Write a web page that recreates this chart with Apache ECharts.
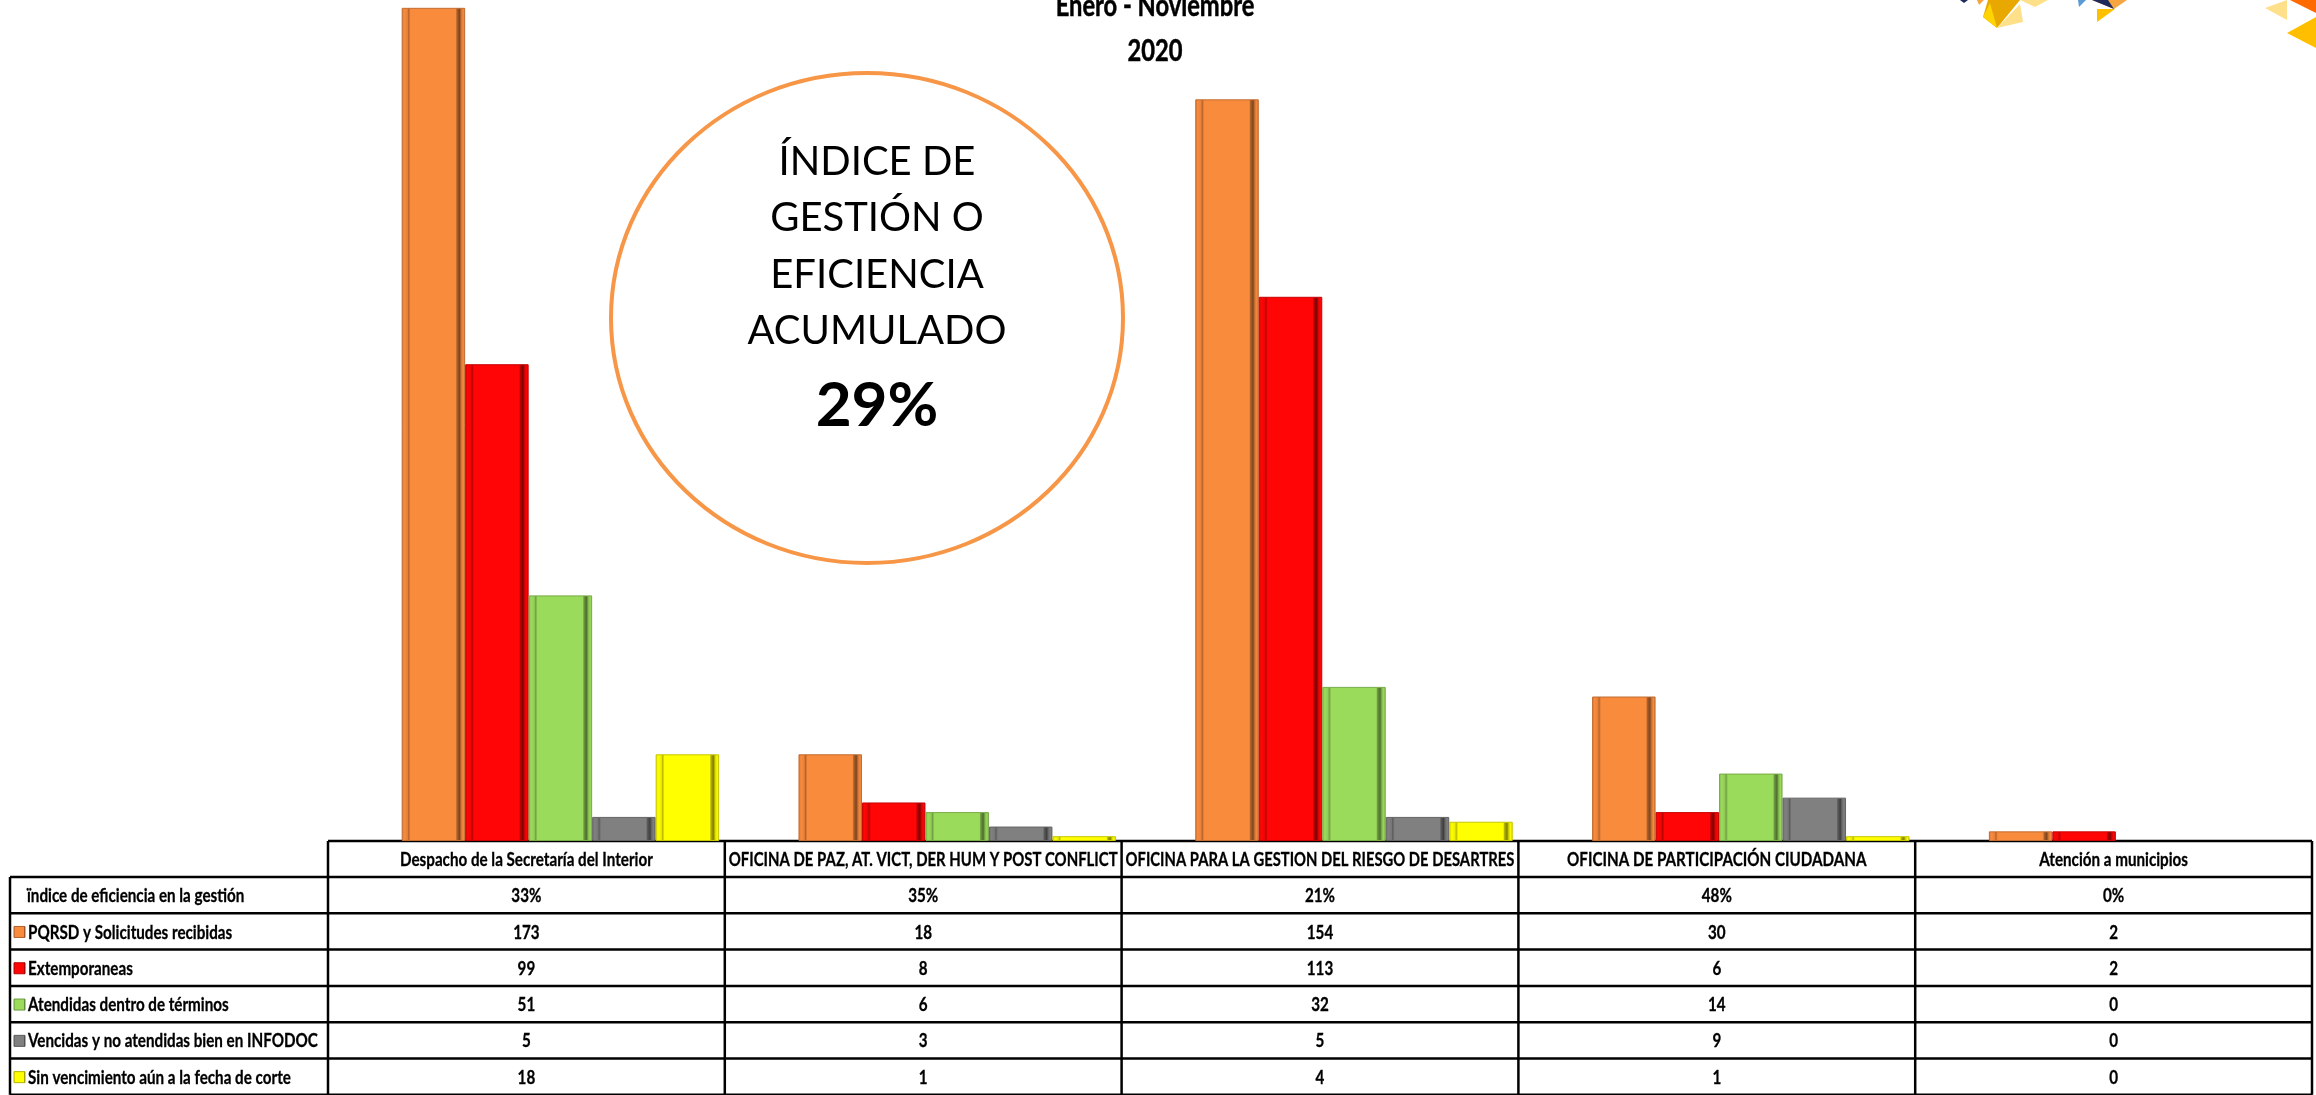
<!DOCTYPE html>
<html><head><meta charset="utf-8">
<script src="https://cdn.jsdelivr.net/npm/echarts@6/dist/echarts.min.js"></script>
<style>html,body{margin:0;padding:0;background:#fff}#c{width:2316px;height:1095px}</style>
</head><body><div id="c"></div>
<script>
// ---- data ----
const categories = ['Despacho de la Secretaría del Interior','OFICINA DE PAZ, AT. VICT, DER HUM Y POST CONFLICT','OFICINA PARA LA GESTION DEL RIESGO DE DESARTRES','OFICINA DE PARTICIPACIÓN CIUDADANA','Atención a municipios'];
const seriesNames = ['PQRSD y Solicitudes recibidas','Extemporaneas','Atendidas dentro de términos','Vencidas y no atendidas bien en INFODOC','Sin vencimiento aún a la fecha de corte'];
const pqrsd = [173, 18, 154, 30, 2];
const extemporaneas = [99, 8, 113, 6, 2];
const atendidas = [51, 6, 32, 14, 0];
const vencidas = [5, 3, 5, 9, 0];
const sinVencimiento = [18, 1, 4, 1, 0];
const indiceLabel = 'ïndice de eficiencia en la gestión';
const indice = ['33%', '35%', '21%', '48%', '0%'];
const titleLines = ['Enero - Noviembre', '2020'];
const calloutLines = ['ÍNDICE DE', 'GESTIÓN O', 'EFICIENCIA', 'ACUMULADO'];
const calloutValue = '29%';

// ---- styles ----
const colors = ['#F98B3D', '#FF0505', '#9BDB5B', '#808080', '#FFFF00'];
const FONT = "Lato,'Open Sans',sans-serif";
function shade(hex, f) {
  const n = parseInt(hex.slice(1), 16);
  let r = (n >> 16) & 255, g = (n >> 8) & 255, b = n & 255;
  if (f < 1) { r *= f; g *= f; b *= f; }
  else { const t = f - 1; r += (255 - r) * t; g += (255 - g) * t; b += (255 - b) * t; }
  const h = v => Math.round(Math.max(0, Math.min(255, v))).toString(16).padStart(2, '0');
  return '#' + h(r) + h(g) + h(b);
}
function bevel(c) {
  return { type: 'linear', x: 0, y: 0, x2: 1, y2: 0, colorStops: [
    { offset: 0, color: shade(c, 0.85) },
    { offset: 0.04, color: c },
    { offset: 0.09, color: shade(c, 0.93) },
    { offset: 0.11, color: shade(c, 0.72) },
    { offset: 0.14, color: c },
    { offset: 0.85, color: c },
    { offset: 0.87, color: shade(c, 0.7) },
    { offset: 0.91, color: shade(c, 0.5) },
    { offset: 0.94, color: shade(c, 0.85) },
    { offset: 0.97, color: c },
    { offset: 1, color: shade(c, 0.8) }
  ] };
}

// ---- layout ----
const tableLeft = 328, tableRight = 2312, labelLeft = 10;
const headerTop = 841, headerH = 36, rowH = 36.3;
const barShift = 34;
const colW = (tableRight - tableLeft) / categories.length;

const chart = echarts.init(document.getElementById('c'), null, { renderer: 'canvas' });
const seriesData = [pqrsd, extemporaneas, atendidas, vencidas, sinVencimiento];

const measureCtx = document.createElement('canvas').getContext('2d');
function fitScale(text, font, base, maxW) {
  measureCtx.font = font;
  const w = measureCtx.measureText(text).width * base;
  return w > maxW ? base * maxW / w : base;
}

const graphic = [];
// title
titleLines.forEach((t, i) => graphic.push({ type: 'text', x: 1155, y: 6 + i * 45, scaleX: 0.79,
  style: { text: t, font: 'bold 30px ' + FONT, fill: '#000', stroke: '#000', lineWidth: 0.5, align: 'center', verticalAlign: 'middle' } }));
// callout ellipse
graphic.push({ type: 'ellipse', shape: { cx: 867, cy: 318, rx: 256, ry: 245 }, style: { fill: 'none', stroke: '#F79646', lineWidth: 4 } });
calloutLines.forEach((t, i) => graphic.push({ type: 'text', x: 877, y: 162 + i * 56.5,
  style: { text: t, font: '40px ' + FONT, fill: '#000', align: 'center', verticalAlign: 'middle' } }));
graphic.push({ type: 'text', x: 877, y: 406, style: { text: calloutValue, font: 'bold 62px ' + FONT, fill: '#000', align: 'center', verticalAlign: 'middle' } });

// table lines
const lineStyle = { stroke: '#000', lineWidth: 2.5 };
const nRows = seriesNames.length + 1;
const tableBottom = headerTop + headerH + nRows * rowH;
graphic.push({ type: 'line', shape: { x1: tableLeft, y1: headerTop, x2: tableRight, y2: headerTop }, style: lineStyle });
for (let r = 0; r <= nRows; r++) {
  const y = headerTop + headerH + r * rowH;
  graphic.push({ type: 'line', shape: { x1: labelLeft, y1: y, x2: tableRight, y2: y }, style: lineStyle });
}
graphic.push({ type: 'line', shape: { x1: labelLeft, y1: headerTop + headerH, x2: labelLeft, y2: tableBottom }, style: lineStyle });
for (let c = 0; c <= categories.length; c++) {
  const x = tableLeft + c * colW;
  graphic.push({ type: 'line', shape: { x1: x, y1: headerTop, x2: x, y2: tableBottom }, style: lineStyle });
}
const cellFont = 'bold 19px ' + FONT;
const sx = 0.8;
const txt = (t) => ({ text: t, font: cellFont, fill: '#000', stroke: '#000', lineWidth: 0.3, verticalAlign: 'middle' });
categories.forEach((cat, c) => {
  const cx = tableLeft + (c + 0.5) * colW;
  graphic.push({ type: 'text', x: cx, y: headerTop + headerH / 2 + 1, scaleX: fitScale(cat, cellFont, sx, colW - 8),
    style: Object.assign(txt(cat), { align: 'center' }) });
  graphic.push({ type: 'text', x: cx, y: headerTop + headerH + rowH / 2 + 1, scaleX: sx,
    style: Object.assign(txt(indice[c]), { align: 'center' }) });
  seriesData.forEach((arr, s) => {
    graphic.push({ type: 'text', x: cx, y: headerTop + headerH + (s + 1.5) * rowH + 1, scaleX: sx,
      style: Object.assign(txt(String(arr[c])), { align: 'center' }) });
  });
});
graphic.push({ type: 'text', x: 27, y: headerTop + headerH + rowH / 2 + 1, scaleX: sx,
  style: Object.assign(txt(indiceLabel), { align: 'left' }) });
seriesNames.forEach((n, s) => {
  const cy = headerTop + headerH + (s + 1.5) * rowH + 1;
  graphic.push({ type: 'rect', shape: { x: 14, y: cy - 6, width: 11, height: 11 },
    style: { fill: bevel(colors[s]), stroke: shade(colors[s], 0.7), lineWidth: 1 } });
  graphic.push({ type: 'text', x: 28, y: cy, scaleX: fitScale(n, cellFont, sx, tableLeft - 32),
    style: Object.assign(txt(n), { align: 'left' }) });
});

// decorative triangles top-right
const polys = [
  { p: [[1960,0],[1968,0],[1964,3]], c: '#1F2A5C' },
  { p: [[1977,0],[1984,0],[1979,5]], c: '#F7A541' },
  { p: [[1988,0],[2020,0],[1997,28],[1983,17]], c: '#E8A800' },
  { p: [[1983,17],[1990,3],[1997,28]], c: '#FFD400' },
  { p: [[1997,28],[2020,4],[2023,22]], c: '#FFE08A' },
  { p: [[2020,0],[2048,0],[2035,7]], c: '#FFE08A' },
  { p: [[2078,0],[2086,0],[2079,7]], c: '#5B9BD5' },
  { p: [[2092,0],[2127,0],[2114,9]], c: '#F7A541' },
  { p: [[2092,0],[2108,0],[2114,9]], c: '#1F2A5C' },
  { p: [[2097,9],[2115,9],[2097,22]], c: '#FFC000' },
  { p: [[2265,8],[2287,0],[2287,20]], c: '#FFE08A' },
  { p: [[2290,0],[2316,0],[2316,13]], c: '#FF6A00' },
  { p: [[2287,33],[2316,17],[2316,48]], c: '#FFBF00' }
];
polys.forEach(o => graphic.push({ type: 'polygon', shape: { points: o.p }, style: { fill: o.c } }));

const option = {
  backgroundColor: '#fff',
  animation: false,
  grid: { left: tableLeft + barShift, top: 3, width: tableRight - tableLeft, height: headerTop - 3, outerBoundsMode: 'none', containLabel: false },
  xAxis: { type: 'category', data: categories, show: false },
  yAxis: { type: 'value', min: 0, max: 174, show: false, splitLine: { show: false } },
  series: seriesNames.map((n, s) => ({
    name: n, type: 'bar', barGap: '0%', barCategoryGap: '20%',
    data: seriesData[s].map(v => v === 0 ? { value: v, itemStyle: { borderWidth: 0, opacity: 0 } } : v),
    itemStyle: { color: bevel(colors[s]), borderColor: shade(colors[s], 0.78), borderWidth: 1 }
  })),
  graphic: graphic
};
chart.setOption(option);
</script></body></html>
